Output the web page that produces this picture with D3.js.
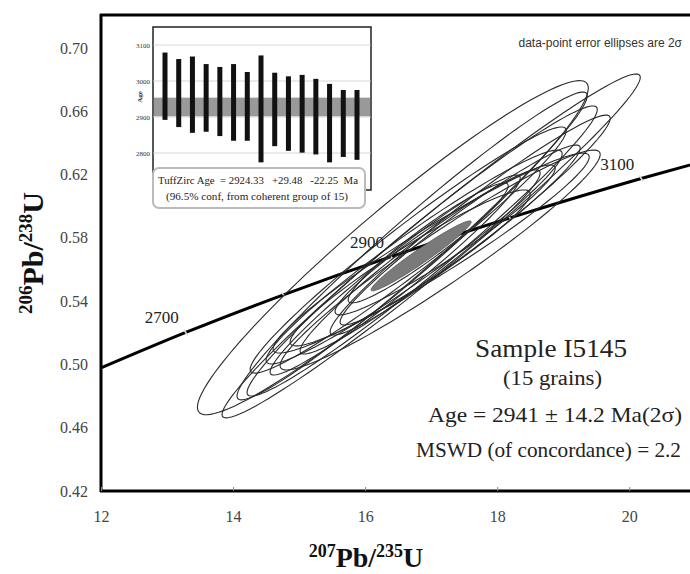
<!DOCTYPE html>
<html lang="en">
<head>
  <meta charset="UTF-8" />
  <title>Concordia I5145</title>
  <script src="https://cdn.jsdelivr.net/npm/d3@7/dist/d3.min.js"></script>
  <style>
    body { margin: 0; background: #fff; }
    svg { display: block; }
    .serif { font-family: "Liberation Serif", "Times New Roman", serif; }
    .sans { font-family: "Liberation Sans", Arial, sans-serif; }
  </style>
</head>
<body>
  <svg id="chart" width="690" height="574"></svg>
  <script>
    // concordia curve nodes (ages in Ma and the two ratios)
    var concAges = [2600, 2700, 2800, 2900, 3000, 3100, 3200];
    var concX = [11.945, 13.283, 14.762, 16.392, 18.193, 20.181, 22.374];
    var concY = [0.4968, 0.5202, 0.5440, 0.5681, 0.5926, 0.6175, 0.6428];
    var concLabels = [2700, 2900, 3100];

    // 15 grain error ellipses: centre, 2-sigma errors, error correlation
    var ellX   = [16.420, 17.000, 16.712, 16.864, 16.652, 16.742, 17.000, 16.682, 16.833, 16.955, 17.212, 17.439, 16.455, 17.591, 17.136];
    var ellY   = [0.5738, 0.5749, 0.5749, 0.5717, 0.5723, 0.5679, 0.5704, 0.5610, 0.5648, 0.5768, 0.5787, 0.5818, 0.5565, 0.5881, 0.5660];
    var ellSx  = [2.960, 3.167, 2.652, 2.652, 2.394, 2.242, 2.394, 1.818, 1.818, 1.212, 1.667, 1.818, 1.894, 2.121, 2.424];
    var ellSy  = [0.1056, 0.1087, 0.0973, 0.0917, 0.0778, 0.0676, 0.0632, 0.0493, 0.0582, 0.0379, 0.0474, 0.0569, 0.0632, 0.0695, 0.0695];
    var ellRho = [0.955, 0.980, 0.975, 0.975, 0.970, 0.965, 0.960, 0.950, 0.965, 0.950, 0.955, 0.965, 0.970, 0.970, 0.960];

    // concordia age ellipse (filled)
    var meanEll = { x: 16.848, y: 0.5686, sx: 0.758, sy: 0.0221, rho: 0.97 };

    var xTicks = [12, 14, 16, 18, 20];
    var yTicks = [0.42, 0.46, 0.50, 0.54, 0.58, 0.62, 0.66, 0.70];

    // inset: TuffZirc age ranges per grain
    var barLow  = [2892, 2872, 2856, 2859, 2847, 2834, 2834, 2774, 2819, 2806, 2801, 2796, 2774, 2789, 2781];
    var barHigh = [3079, 3061, 3068, 3047, 3039, 3047, 3025, 3071, 3023, 3013, 3017, 3006, 2992, 2975, 2975];
    var insetTicks = [2800, 2900, 3000, 3100];
    var tuffAge = 2924.33, tuffPlus = 29.48, tuffMinus = 22.25;

    var svg = d3.select("#chart");

    var x = d3.scaleLinear().domain([12, 20.92]).range([101, 690]);
    var y = d3.scaleLinear().domain([0.42, 0.7215]).range([491, 14]);

    svg.append("clipPath").attr("id", "plotClip")
      .append("rect").attr("x", 101).attr("y", 14).attr("width", 589).attr("height", 477);

    var plot = svg.append("g").attr("clip-path", "url(#plotClip)");

    // concordia
    var conc = concAges.map(function(a, i) { return { age: a, x: concX[i], y: concY[i] }; });
    plot.append("path")
      .datum(conc)
      .attr("d", d3.line().x(d => x(d.x)).y(d => y(d.y)).curve(d3.curveNatural))
      .attr("fill", "none")
      .attr("stroke", "#000")
      .attr("stroke-width", 3);

    // small age ticks on the curve
    conc.forEach(function(d) {
      plot.append("line")
        .attr("x1", x(d.x) - 2).attr("y1", y(d.y) - 3)
        .attr("x2", x(d.x) + 2).attr("y2", y(d.y) + 3)
        .attr("stroke", "#ddd").attr("stroke-width", 1.5);
    });

    function ellipsePts(cx, cy, sx, sy, rho) {
      var pts = [];
      var k = Math.sqrt(1 - rho * rho);
      for (var i = 0; i < 120; i++) {
        var t = i / 120 * 2 * Math.PI;
        pts.push([x(cx + sx * Math.cos(t)), y(cy + sy * (rho * Math.cos(t) + k * Math.sin(t)))]);
      }
      return pts;
    }
    var ellLine = d3.line().curve(d3.curveLinearClosed);

    ellX.forEach(function(cx, i) {
      plot.append("path")
        .attr("d", ellLine(ellipsePts(cx, ellY[i], ellSx[i], ellSy[i], ellRho[i])))
        .attr("fill", "none")
        .attr("stroke", "#2a2a2a")
        .attr("stroke-width", 1.1);
    });

    plot.append("path")
      .attr("d", ellLine(ellipsePts(meanEll.x, meanEll.y, meanEll.sx, meanEll.sy, meanEll.rho)))
      .attr("fill", "#7a7a7a")
      .attr("stroke", "#555")
      .attr("stroke-width", 0.8);

    // age labels on concordia
    concLabels.forEach(function(a) {
      var d = conc.find(c => c.age === a);
      svg.append("text").attr("class", "serif")
        .attr("x", x(d.x) - 7).attr("y", y(d.y) - 9)
        .attr("text-anchor", "end")
        .attr("font-size", 17).attr("fill", "#222")
        .text(a);
    });

    // frame
    svg.append("line").attr("x1", 101).attr("x2", 101).attr("y1", 14).attr("y2", 492)
      .attr("stroke", "#000").attr("stroke-width", 3);
    svg.append("line").attr("x1", 100).attr("x2", 690).attr("y1", 491).attr("y2", 491)
      .attr("stroke", "#000").attr("stroke-width", 3);
    svg.append("line").attr("x1", 100).attr("x2", 690).attr("y1", 15).attr("y2", 15)
      .attr("stroke", "#000").attr("stroke-width", 3);

    // axes
    var xAxis = svg.append("g").attr("transform", "translate(0,491)")
      .call(d3.axisBottom(x).tickValues(xTicks).tickSize(0).tickPadding(20));
    xAxis.select(".domain").remove();
    xAxis.selectAll("text").attr("class", "serif").attr("font-size", 16).attr("fill", "#444");
    xAxis.selectAll(".tick").append("line").attr("y2", -4).attr("stroke", "#888");

    var yAxis = svg.append("g").attr("transform", "translate(101,0)")
      .call(d3.axisLeft(y).tickValues(yTicks).tickFormat(d3.format(".2f")).tickSize(0).tickPadding(13));
    yAxis.select(".domain").remove();
    yAxis.selectAll("text").attr("class", "serif").attr("font-size", 16).attr("fill", "#444");

    // axis titles
    var xt = svg.append("text").attr("class", "serif")
      .attr("x", 366).attr("y", 567).attr("text-anchor", "middle")
      .attr("font-weight", "bold").attr("font-size", 28).attr("fill", "#111");
    xt.append("tspan").attr("font-size", 18).attr("dy", -10).text("207");
    xt.append("tspan").attr("dy", 10).text("Pb/");
    xt.append("tspan").attr("font-size", 18).attr("dy", -10).text("235");
    xt.append("tspan").attr("dy", 10).text("U");

    var yt = svg.append("text").attr("class", "serif")
      .attr("transform", "translate(43,253) rotate(-90)").attr("text-anchor", "middle")
      .attr("font-weight", "bold").attr("font-size", 30).attr("fill", "#111");
    yt.append("tspan").attr("font-size", 19).attr("dy", -11).text("206");
    yt.append("tspan").attr("dy", 11).text("Pb/");
    yt.append("tspan").attr("font-size", 19).attr("dy", -11).text("238");
    yt.append("tspan").attr("dy", 11).text("U");

    // annotations
    svg.append("text").attr("class", "sans")
      .attr("x", 682).attr("y", 47).attr("text-anchor", "end")
      .attr("font-size", 12).attr("fill", "#333")
      .text("data-point error ellipses are 2\u03c3");

    svg.append("text").attr("class", "serif")
      .attr("x", 475).attr("y", 357)
      .attr("font-size", 26).attr("fill", "#222")
      .attr("textLength", 152).attr("lengthAdjust", "spacingAndGlyphs").text("Sample I5145");
    svg.append("text").attr("class", "serif")
      .attr("x", 503).attr("y", 385)
      .attr("font-size", 20).attr("fill", "#222")
      .attr("textLength", 99).attr("lengthAdjust", "spacingAndGlyphs").text("(15 grains)");
    svg.append("text").attr("class", "serif")
      .attr("x", 428).attr("y", 422)
      .attr("font-size", 21).attr("fill", "#222")
      .attr("textLength", 254).attr("lengthAdjust", "spacingAndGlyphs").text("Age = 2941 \u00b1 14.2 Ma(2\u03c3)");
    svg.append("text").attr("class", "serif")
      .attr("x", 416).attr("y", 457)
      .attr("font-size", 21).attr("fill", "#222")
      .attr("textLength", 265).attr("lengthAdjust", "spacingAndGlyphs").text("MSWD (of concordance) = 2.2");

    // inset
    var inset = svg.append("g");
    var iL = 153, iR = 371, iT = 27, iB = 190;
    inset.append("rect").attr("x", iL).attr("y", iT).attr("width", iR - iL).attr("height", iB - iT)
      .attr("fill", "#fff").attr("stroke", "#222").attr("stroke-width", 1.5);

    var xi = d3.scalePoint().domain(d3.range(barLow.length)).range([165, 357]);
    var yi = d3.scaleLinear().domain([2800, 3100]).range([153, 45]);

    inset.selectAll(".grid").data(insetTicks).enter().append("line")
      .attr("x1", iL).attr("x2", iR).attr("y1", d => yi(d)).attr("y2", d => yi(d))
      .attr("stroke", "#ccc").attr("stroke-width", 0.8);

    inset.append("rect")
      .attr("x", iL + 1).attr("width", iR - iL - 2)
      .attr("y", yi(tuffAge + tuffPlus)).attr("height", yi(tuffAge - tuffMinus) - yi(tuffAge + tuffPlus))
      .attr("fill", "#999");

    inset.selectAll(".bar").data(barLow).enter().append("rect")
      .attr("x", (d, i) => xi(i) - 2.5).attr("width", 5)
      .attr("y", (d, i) => yi(barHigh[i])).attr("height", (d, i) => yi(d) - yi(barHigh[i]))
      .attr("fill", "#111");

    inset.selectAll(".ilab").data(insetTicks).enter().append("text")
      .attr("class", "serif")
      .attr("x", 150).attr("y", d => yi(d) + 2.5).attr("text-anchor", "end")
      .attr("font-size", 7).attr("fill", "#333").text(d => d);
    inset.append("text").attr("class", "serif")
      .attr("transform", "translate(142,97) rotate(-90)").attr("text-anchor", "middle")
      .attr("font-size", 7).attr("font-weight", "bold").attr("fill", "#333").text("Age");

    inset.append("rect").attr("x", 153).attr("y", 168).attr("width", 212).attr("height", 40).attr("rx", 6)
      .attr("fill", "#fff").attr("stroke", "#bbb").attr("stroke-width", 2);
    inset.append("text").attr("class", "serif")
      .attr("x", 158).attr("y", 184).attr("font-size", 10).attr("fill", "#222")
      .attr("xml:space", "preserve").style("white-space", "pre")
      .attr("textLength", 200).attr("lengthAdjust", "spacingAndGlyphs")
      .text("TuffZirc Age  = " + tuffAge.toFixed(2) + "   +" + tuffPlus.toFixed(2) + "   -" + tuffMinus.toFixed(2) + "  Ma");
    inset.append("text").attr("class", "serif")
      .attr("x", 166).attr("y", 200).attr("font-size", 10).attr("fill", "#222")
      .attr("textLength", 182).attr("lengthAdjust", "spacingAndGlyphs")
      .text("(96.5% conf, from coherent group of 15)");
  </script>
</body>
</html>
